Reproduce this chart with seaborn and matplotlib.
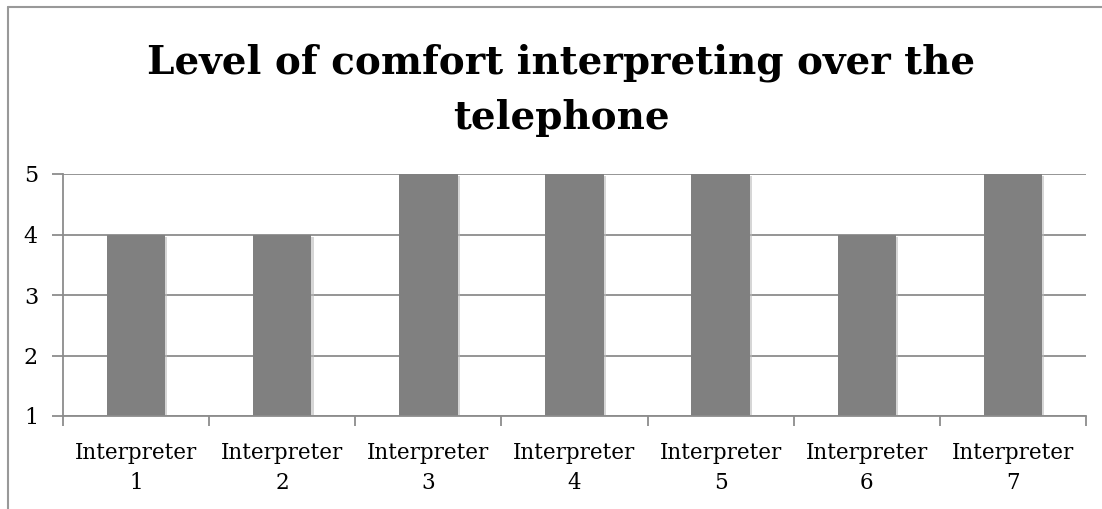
import matplotlib
matplotlib.use("Agg")
import matplotlib.pyplot as plt
import matplotlib.patheffects as pe
import seaborn as sns
import pandas as pd
from matplotlib.lines import Line2D

# Chart data
interpreters = ["Interpreter\n1", "Interpreter\n2", "Interpreter\n3", "Interpreter\n4",
                "Interpreter\n5", "Interpreter\n6", "Interpreter\n7"]
comfort = [4, 4, 5, 5, 5, 4, 5]
y_ticks = [1, 2, 3, 4, 5]

df = pd.DataFrame({"interpreter": interpreters, "comfort": comfort})

sns.set_style("white")
plt.rcParams["font.family"] = ["DejaVu Serif"]
plt.rcParams["text.color"] = "black"
plt.rcParams["xtick.color"] = "black"
plt.rcParams["ytick.color"] = "black"

fig = plt.figure(figsize=(11.02, 5.09), dpi=100)
ax = fig.add_axes([63 / 1102, 1 - 416 / 509, (1086 - 63) / 1102, (416 - 174) / 509])

grid_col = "#8c8c8c"
for v in y_ticks:
    ax.axhline(v, color=grid_col, lw=1.3, zorder=0)

sns.barplot(data=df, x="interpreter", y="comfort", color="#808080", width=0.4,
            saturation=1, ax=ax, zorder=2, edgecolor="none", linewidth=0)
# soft drop shadow like the original
for bar in ax.patches:
    bar.set_path_effects([pe.SimplePatchShadow(offset=(1.5, -1.5), shadow_rgbFace="#bbbbbb",
                                               alpha=0.6), pe.Normal()])

ax.set_ylim(1, 5)
ax.set_xlim(-0.5, len(interpreters) - 0.5)
ax.set_yticks(y_ticks)
ax.set_xlabel("")
ax.set_ylabel("")

for s in ["top", "right"]:
    ax.spines[s].set_visible(False)
for s in ["left", "bottom"]:
    ax.spines[s].set_color(grid_col)
    ax.spines[s].set_linewidth(1.3)

ax.tick_params(axis="x", which="major", bottom=False, length=0, pad=19, labelsize=15.5)
ax.set_xticks([i + 0.5 for i in range(-1, len(interpreters))], minor=True)
ax.tick_params(axis="x", which="minor", bottom=True, length=7, width=1.3, color=grid_col,
               direction="out")
ax.tick_params(axis="y", left=True, length=8, width=1.3, color=grid_col, direction="out",
               pad=10, labelsize=16)
for lab in ax.get_xticklabels():
    lab.set_linespacing(1.45)
    lab.set_verticalalignment("top")

title_x = 561 / 1102
fig.text(title_x, 1 - 73 / 509, "Level of comfort interpreting over the",
         ha="center", va="baseline", fontsize=28, fontweight="bold")
fig.text(title_x, 1 - 129 / 509, "telephone",
         ha="center", va="baseline", fontsize=28, fontweight="bold")

# outer chart frame (left and top edges visible)
fx, fy = 8 / 1102, 1 - 7 / 509
fig.add_artist(Line2D([fx, fx], [0, fy], color="#999999", lw=1.5))
fig.add_artist(Line2D([fx, 1], [fy, fy], color="#999999", lw=1.5))

fig.savefig("out.png", dpi=100)
